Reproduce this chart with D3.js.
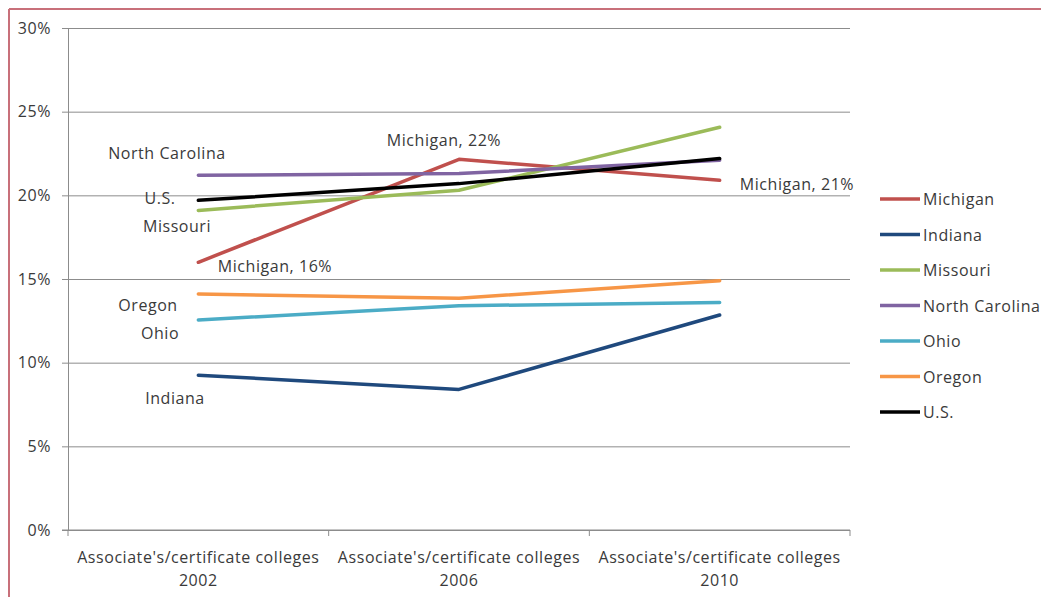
<!DOCTYPE html>
<html>
<head>
<meta charset="utf-8">
<script src="https://cdn.jsdelivr.net/npm/d3@7"></script>
<style>
  body { margin: 0; background: #fff; }
  svg text { font-family: "Open Sans", Lato, sans-serif; fill: #3a3a3a; letter-spacing: 0.55px; }
</style>
</head>
<body>
<svg id="chart" width="1041" height="597"></svg>
<script>
// chart data
const categories = ["2002", "2006", "2010"];
const categoryPrefix = "Associate's/certificate colleges";
const yTicks = [0, 0.05, 0.10, 0.15, 0.20, 0.25, 0.30];

const michigan = [0.160, 0.2215, 0.209];
const indiana = [0.0925, 0.084, 0.1285];
const missouri = [0.191, 0.203, 0.2407];
const northCarolina = [0.212, 0.213, 0.221];
const ohio = [0.1255, 0.134, 0.136];
const oregon = [0.141, 0.1385, 0.149];
const us = [0.197, 0.207, 0.222];

const seriesNames = ["Michigan", "Indiana", "Missouri", "North Carolina", "Ohio", "Oregon", "U.S."];
const seriesValues = [michigan, indiana, missouri, northCarolina, ohio, oregon, us];
const colors = ["#C0504D", "#1F497D", "#9BBB59", "#8064A2", "#4BACC6", "#F79646", "#000000"];

const svg = d3.select("#chart");

// outer frame (only left and top edges show in the picture)
svg.append("line").attr("x1", 9).attr("y1", 9).attr("x2", 1041).attr("y2", 9)
  .attr("stroke", "#C8707A").attr("stroke-width", 2);
svg.append("line").attr("x1", 9).attr("y1", 9).attr("x2", 9).attr("y2", 597)
  .attr("stroke", "#C8707A").attr("stroke-width", 2);

const x = d3.scaleBand().domain(categories).range([68, 850]).padding(0);
const y = d3.scaleLinear().domain([0, 0.30]).range([530, 28]);

// gridlines
svg.append("g")
  .attr("transform", "translate(68,0)")
  .call(d3.axisLeft(y).tickValues(yTicks).tickSize(-782).tickFormat(""))
  .call(g => g.select(".domain").remove())
  .call(g => g.selectAll("line").attr("stroke", "#8c8c8c").attr("stroke-width", 1));

// y axis
svg.append("g")
  .attr("transform", "translate(68,0)")
  .call(d3.axisLeft(y).tickValues(yTicks).tickSize(6).tickFormat(d3.format(".0%")))
  .call(g => g.select(".domain").attr("stroke", "#8c8c8c"))
  .call(g => g.selectAll("line").attr("stroke", "#8c8c8c"))
  .call(g => g.selectAll("text").attr("font-size", 16).attr("x", -17));

// x axis line and boundary ticks
svg.append("line").attr("x1", 62).attr("x2", 850).attr("y1", y(0)).attr("y2", y(0))
  .attr("stroke", "#8c8c8c");
const edges = categories.map(c => x(c)).concat([x.range()[1]]);
svg.selectAll(".xtick").data(edges).enter().append("line")
  .attr("class", "xtick")
  .attr("x1", d => d).attr("x2", d => d)
  .attr("y1", y(0)).attr("y2", y(0) + 6)
  .attr("stroke", "#8c8c8c");

// x labels
const xl = svg.selectAll(".xlabel").data(categories).enter().append("text")
  .attr("class", "xlabel")
  .attr("text-anchor", "middle")
  .attr("font-size", 16);
xl.append("tspan").attr("x", d => x(d) + x.bandwidth() / 2).attr("y", 563).text(categoryPrefix);
xl.append("tspan").attr("x", d => x(d) + x.bandwidth() / 2).attr("y", 586).text(d => d);

// lines
const line = d3.line()
  .x((d, i) => x(categories[i]) + x.bandwidth() / 2)
  .y(d => y(d));

svg.selectAll(".series").data(seriesValues).enter().append("path")
  .attr("class", "series")
  .attr("d", d => line(d))
  .attr("fill", "none")
  .attr("stroke", (d, i) => colors[i])
  .attr("stroke-width", 3.5)
  .attr("stroke-linecap", "round")
  .attr("stroke-linejoin", "round");

// data labels
const labels = [
  { text: "North Carolina", x: 167, y: 159 },
  { text: "U.S.", x: 160, y: 204 },
  { text: "Missouri", x: 177, y: 232 },
  { text: "Michigan, 16%", x: 275, y: 272 },
  { text: "Michigan, 22%", x: 444, y: 146 },
  { text: "Michigan, 21%", x: 797, y: 190 },
  { text: "Oregon", x: 148, y: 311 },
  { text: "Ohio", x: 160, y: 339 },
  { text: "Indiana", x: 175, y: 404 }
];
svg.selectAll(".dlabel").data(labels).enter().append("text")
  .attr("class", "dlabel")
  .attr("x", d => d.x).attr("y", d => d.y)
  .attr("text-anchor", "middle")
  .attr("font-size", 16)
  .text(d => d.text);

// legend
const legend = svg.selectAll(".legend").data(seriesNames).enter().append("g")
  .attr("class", "legend")
  .attr("transform", (d, i) => `translate(880,${199 + i * 35.5})`);
legend.append("line").attr("x1", 0).attr("x2", 40).attr("y1", 0).attr("y2", 0)
  .attr("stroke", (d, i) => colors[i]).attr("stroke-width", 3.5);
legend.append("text").attr("x", 43).attr("y", 6).attr("font-size", 16).text(d => d);
</script>
</body>
</html>
